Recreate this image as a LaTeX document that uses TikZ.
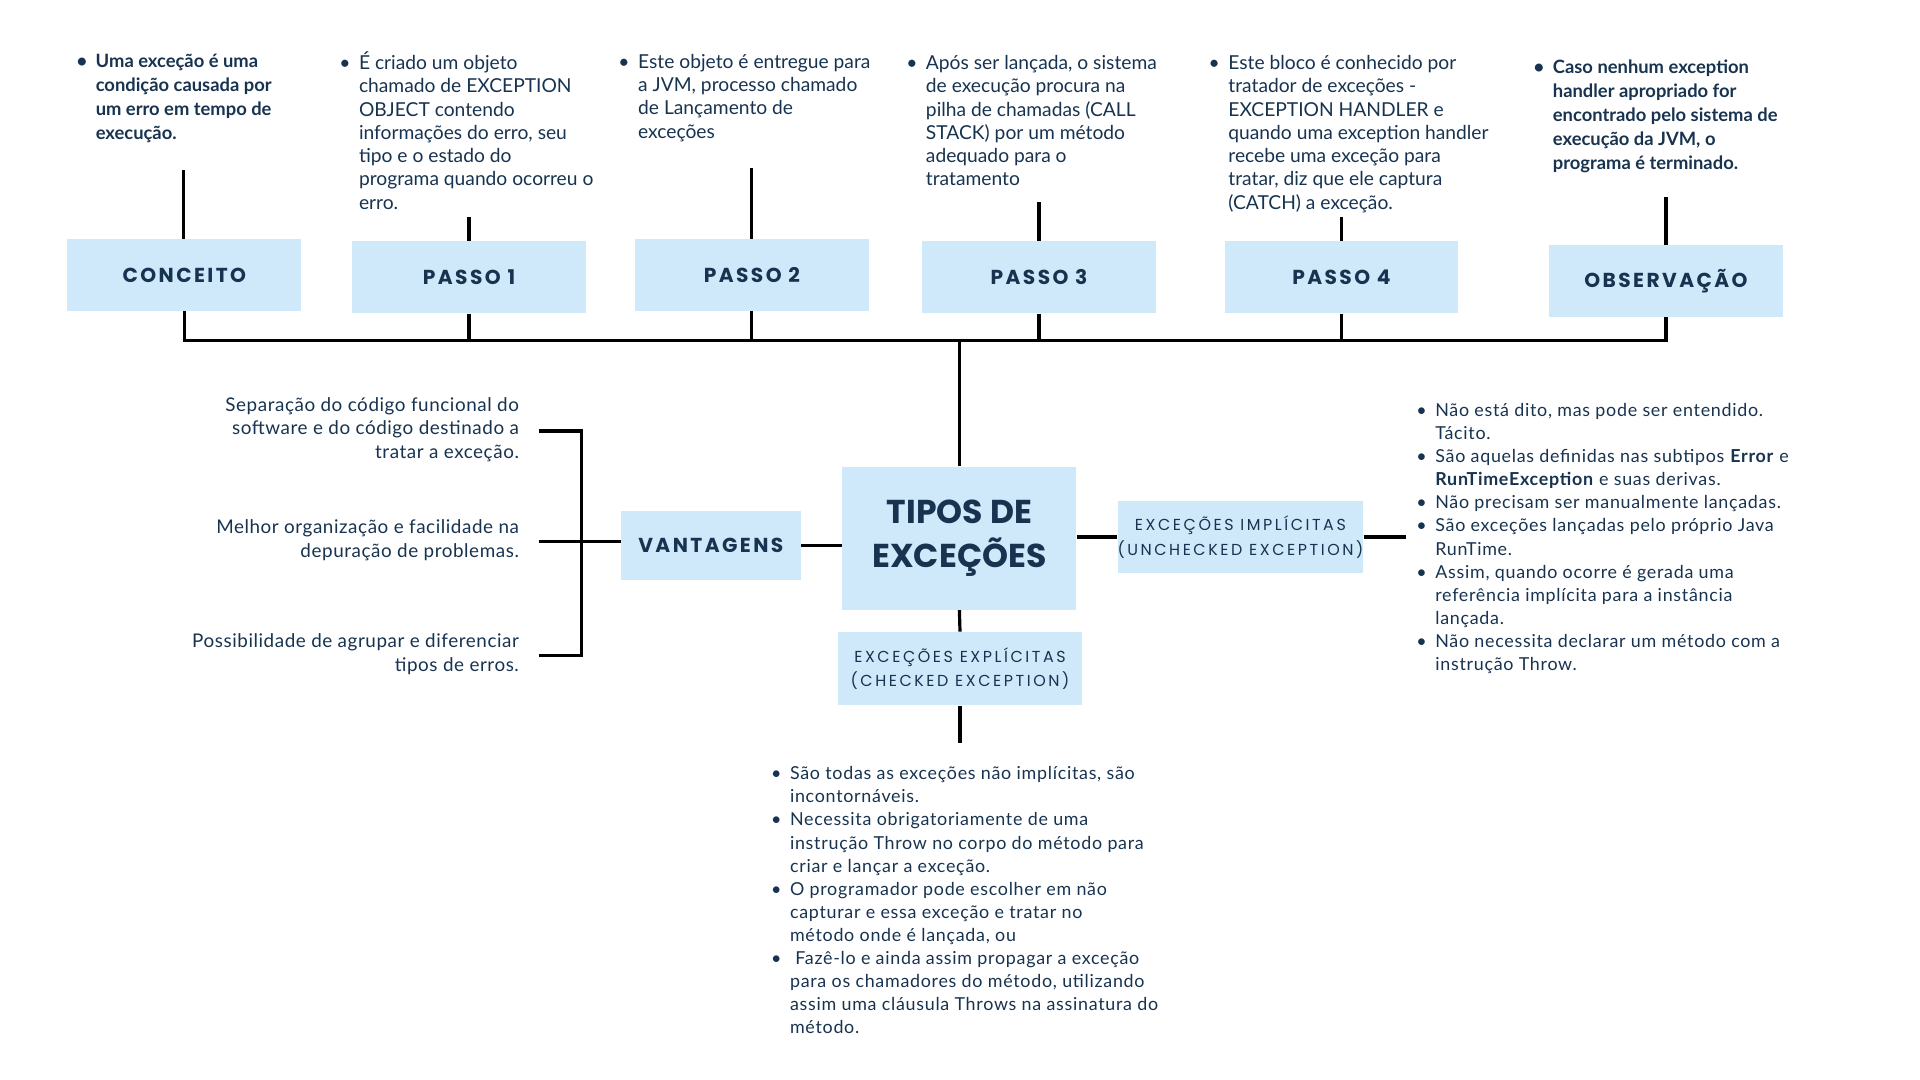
\documentclass[tikz,border=0pt]{standalone}
\usepackage{fontspec}
\setmainfont{Lato}
\newfontfamily\hfont[LetterSpace=12]{Poppins}
\newfontfamily\lfont[LetterSpace=16]{Poppins}
\newfontfamily\tfont{Poppins}
\newfontfamily\wfont[LetterSpace=4]{Lato}
\newfontfamily\sfont[LetterSpace=3]{Lato}
\definecolor{ink}{HTML}{173350}
\definecolor{boxblue}{HTML}{CFE9FA}
\newcommand{\bul}{\llap{\textbullet\hspace{7pt}}}
\begin{document}
\begin{tikzpicture}[x=1pt,y=-1pt,
  hbox/.style={fill=boxblue, minimum width=191pt, minimum height=59pt, inner sep=0pt, text=ink,
    font=\hfont\bfseries\fontsize{16.5}{20}\selectfont},
  lbox/.style={fill=boxblue, minimum width=200pt, minimum height=59pt, inner sep=0pt, text=ink, align=center,
    font=\lfont\fontsize{13}{20}\selectfont},
  conn/.style={line width=2.6pt, black},
  strutted/.style={execute at begin node={\rule{0pt}{18pt}}},
  toptxt/.style={anchor=north west, align=left, inner sep=0pt, text=ink, strutted, font=\fontsize{15.7}{19}\selectfont},
  boldtxt/.style={toptxt, font=\bfseries\fontsize{15}{19.5}\selectfont},
  lefttxt/.style={anchor=north east, align=right, inner sep=0pt, text=ink, strutted, font=\sfont\fontsize{15.4}{19}\selectfont},
  listtxt/.style={anchor=north west, align=left, inner sep=0pt, text=ink, strutted, font=\wfont\fontsize{14.6}{18.8}\selectfont}
]
\useasboundingbox (0,0) rectangle (1568,882);

% top boxes
\node[hbox] (conc) at (150.5,224.5) {CONCEITO};
\node[hbox] (p1) at (383,226.5) {PASSO 1};
\node[hbox] (p2) at (614,224.5) {PASSO 2};
\node[hbox] (p3) at (848.5,226.5) {PASSO 3};
\node[hbox] (p4) at (1095.5,226.5) {PASSO 4};
\node[hbox] (obs) at (1360.5,229.5) {OBSERVAÇÃO};

% top texts
\node[boldtxt] (tc) at (78,44) {\bul Uma exceção é uma\\condição causada por\\um erro em tempo de\\execução.};
\node[toptxt] (t1) at (293,42) {\bul É criado um objeto\\chamado de EXCEPTION\\OBJECT contendo\\informações do erro, seu\\tipo e o estado do\\programa quando ocorreu o\\erro.};
\node[toptxt] (t2) at (521,44) {\bul Este objeto é entregue para\\a JVM, processo chamado\\de Lançamento de\\exceções};
\node[toptxt] (t3) at (756,45) {\bul Após ser lançada, o sistema\\de execução procura na\\pilha de chamadas (CALL\\STACK) por um método\\adequado para o\\tratamento};
\node[toptxt] (t4) at (1003,45) {\bul Este bloco é conhecido por\\tratador de exceções -\\EXCEPTION HANDLER e\\quando uma exception handler\\recebe uma exceção para\\tratar, diz que ele captura\\(CATCH) a exceção.};
\node[boldtxt] (to) at (1268,49) {\bul Caso nenhum exception\\handler apropriado for\\encontrado pelo sistema de\\execução da JVM, o\\programa é terminado.};

% tick start coordinates
\coordinate (uc) at (150,139);
\coordinate (u1) at (383,177);
\coordinate (u2) at (614,137);
\coordinate (u3) at (848.5,165);
\coordinate (u4) at (1095.5,177);
\coordinate (uo) at (1360.5,161);
\draw[conn] (uc) -- (uc |- conc.north);
\draw[conn] (u1) -- (u1 |- p1.north);
\draw[conn] (u2) -- (u2 |- p2.north);
\draw[conn] (u3) -- (u3 |- p3.north);
\draw[conn] (u4) -- (u4 |- p4.north);
\draw[conn] (uo) -- (uo |- obs.north);

% bus
\coordinate (busL) at (150.5,278);
\coordinate (busR) at (1360.5,278);
\draw[conn] ([xshift=-1.3pt]busL) -- ([xshift=1.3pt]busR);
\foreach \b in {conc,p1,p2,p3,p4,obs}{
  \draw[conn] (\b.south) -- (\b.south |- busL);
}

% centre
\node[fill=boxblue, minimum width=191pt, minimum height=117pt, inner sep=0pt, text=ink, align=center,
  font=\tfont\bfseries\fontsize{27}{36}\selectfont] (tipos) at (783.5,439.5) {TIPOS DE\\EXCEÇÕES};
\draw[conn] (tipos.north) -- (tipos.north |- busL);

\node[fill=boxblue, minimum width=147pt, minimum height=57pt, inner sep=0pt, text=ink,
  font=\hfont\bfseries\fontsize{16.5}{20}\selectfont] (vant) at (580.5,445.5) {VANTAGENS};
\draw[conn] (vant.east) -- (vant.east -| tipos.west);

\node[lbox] (impl) at (1013,438.5) {EXCEÇÕES IMPLÍCITAS\\(UNCHECKED EXCEPTION)};
\node[lbox, minimum height=60pt] (expl) at (784,546) {EXCEÇÕES EXPLÍCITAS\\(CHECKED EXCEPTION)};
\draw[conn] (tipos.east |- impl.west) -- (impl.west);
\coordinate (ie) at (1148,438.5);
\draw[conn] (impl.east) -- (ie);
\draw[conn] (tipos.south) -- (expl.north);
\coordinate (ee) at (784,607);
\draw[conn] (expl.south) -- (ee);

% bracket
\coordinate (b1) at (440,352);
\coordinate (b2) at (440,442);
\coordinate (b3) at (440,535);
\coordinate (bt) at (475,352);
\coordinate (bb) at (475,535);
\draw[conn] (b1) -- (bt) -- (bb) -- (b3);
\draw[conn] (b2) -- (b2 -| vant.west);

% left texts
\node[lefttxt] (l1) at (424,324.5) {Separação do código funcional do\\software e do código destinado a\\tratar a exceção.};
\node[lefttxt] (l2) at (424,424.5) {Melhor organização e facilidade na\\depuração de problemas.};
\node[lefttxt] (l3) at (424,517.5) {Possibilidade de agrupar e diferenciar\\tipos de erros.};

% right list
\node[listtxt] (rl) at (1172,329.5) {\bul Não está dito, mas pode ser entendido.\\Tácito.\\\bul São aquelas definidas nas subtipos \textbf{Error} e\\\textbf{RunTimeException} e suas derivas.\\\bul Não precisam ser manualmente lançadas.\\\bul São exceções lançadas pelo próprio Java\\RunTime.\\\bul Assim, quando ocorre é gerada uma\\referência implícita para a instância\\lançada.\\\bul Não necessita declarar um método com a\\instrução Throw.};

% bottom list
\node[listtxt] (bl) at (645,626) {\bul São todas as exceções não implícitas, são\\incontornáveis.\\\bul Necessita obrigatoriamente de uma\\instrução Throw no corpo do método para\\criar e lançar a exceção.\\\bul O programador pode escolher em não\\capturar e essa exceção e tratar no\\método onde é lançada, ou\\\bul\ Fazê-lo e ainda assim propagar a exceção\\para os chamadores do método, utilizando\\assim uma cláusula Throws na assinatura do\\método.};
\end{tikzpicture}
\end{document}
